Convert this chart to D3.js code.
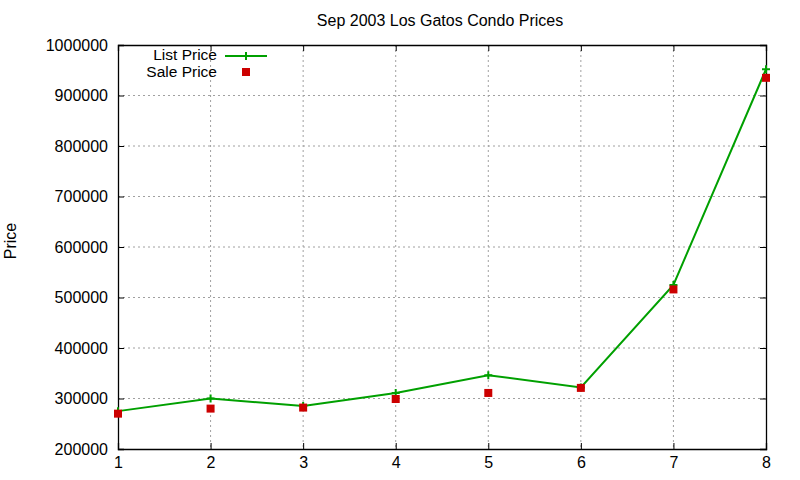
<!DOCTYPE html>
<html>
<head>
<meta charset="utf-8">
<script src="https://cdn.jsdelivr.net/npm/d3@7"></script>
<style>
  body { margin: 0; background: #fff; }
  text { font-family: "Liberation Sans", Arial, sans-serif; fill: #000; }
</style>
</head>
<body>
<svg id="chart" width="800" height="480"></svg>
<script>
// data
const months = [1, 2, 3, 4, 5, 6, 7, 8];
const listPrice = [275000, 300000, 285000, 311000, 346000, 322000, 525000, 952000];
const salePrice = [270000, 280000, 282000, 299000, 311000, 321000, 516000, 935000];
const yTicks = [200000, 300000, 400000, 500000, 600000, 700000, 800000, 900000, 1000000];

const margin = {top: 45, right: 34, bottom: 31, left: 118};
const width = 800 - margin.left - margin.right;
const height = 480 - margin.top - margin.bottom;

const svg = d3.select('#chart');
const g = svg.append('g')
  .attr('transform', `translate(${margin.left},${margin.top})`);

const x = d3.scaleLinear().domain([1, 8]).range([0, width]);
const y = d3.scaleLinear().domain([200000, 1000000]).range([height, 0]);

// grid
g.append('g').selectAll('line')
  .data(months.slice(1, -1))
  .join('line')
  .attr('x1', d => x(d)).attr('x2', d => x(d))
  .attr('y1', 0).attr('y2', height)
  .attr('stroke', '#a0a0a0').attr('stroke-dasharray', '2,3');

g.append('g').selectAll('line')
  .data(yTicks.slice(1, -1))
  .join('line')
  .attr('x1', 0).attr('x2', width)
  .attr('y1', d => y(d)).attr('y2', d => y(d))
  .attr('stroke', '#a0a0a0').attr('stroke-dasharray', '2,3');

// axes, ticks inward on all four sides
const tick = 6;
const fmt = d3.format('d');

g.append('g')
  .attr('transform', `translate(0,${height})`)
  .call(d3.axisBottom(x).tickValues(months).tickSize(-tick).tickPadding(8).tickFormat(fmt));
g.append('g')
  .call(d3.axisTop(x).tickValues(months).tickSize(-tick).tickFormat(''));
g.append('g')
  .call(d3.axisLeft(y).tickValues(yTicks).tickSize(-tick).tickPadding(10).tickFormat(fmt));
g.append('g')
  .attr('transform', `translate(${width},0)`)
  .call(d3.axisRight(y).tickValues(yTicks).tickSize(-tick).tickFormat(''));

g.selectAll('.domain').attr('stroke', '#000').attr('stroke-width', 1.3);
g.selectAll('.tick line').attr('stroke', '#000');
g.selectAll('.tick text').style('font-size', '16px')
  .style('font-family', '"Liberation Sans", Arial, sans-serif');

const green = '#00a000';
const red = '#cc0000';

// list price line
const line = d3.line().x((d, i) => x(months[i])).y(d => y(d));
g.append('path')
  .datum(listPrice)
  .attr('d', line)
  .attr('fill', 'none')
  .attr('stroke', green)
  .attr('stroke-width', 2);

const plus = (sel, s) => sel.append('path')
  .attr('d', `M${-s},0H${s}M0,${-s}V${s}`)
  .attr('stroke', green).attr('stroke-width', 2).attr('fill', 'none');

g.append('g').selectAll('g')
  .data(listPrice)
  .join('g')
  .attr('transform', (d, i) => `translate(${x(months[i])},${y(d)})`)
  .each(function () { plus(d3.select(this), 4); });

// sale price markers
g.append('g').selectAll('rect')
  .data(salePrice)
  .join('rect')
  .attr('x', (d, i) => x(months[i]) - 4)
  .attr('y', d => y(d) - 4)
  .attr('width', 8).attr('height', 8)
  .attr('fill', red);

// legend
const legend = svg.append('g');
legend.append('text').attr('x', 217).attr('y', 60)
  .attr('text-anchor', 'end').style('font-size', '15.5px').text('List Price');
legend.append('line').attr('x1', 225).attr('x2', 267).attr('y1', 56).attr('y2', 56)
  .attr('stroke', green).attr('stroke-width', 2);
plus(legend.append('g').attr('transform', 'translate(246,56)'), 4);
legend.append('text').attr('x', 217).attr('y', 77)
  .attr('text-anchor', 'end').style('font-size', '15.5px').text('Sale Price');
legend.append('rect').attr('x', 242).attr('y', 68).attr('width', 8).attr('height', 8)
  .attr('fill', red);

// title and y label
svg.append('text').attr('x', 440).attr('y', 26)
  .attr('text-anchor', 'middle').style('font-size', '16px')
  .text('Sep 2003 Los Gatos Condo Prices');
svg.append('text')
  .attr('transform', 'translate(16,241) rotate(-90)')
  .attr('text-anchor', 'middle').style('font-size', '16px')
  .text('Price');
</script>
</body>
</html>
